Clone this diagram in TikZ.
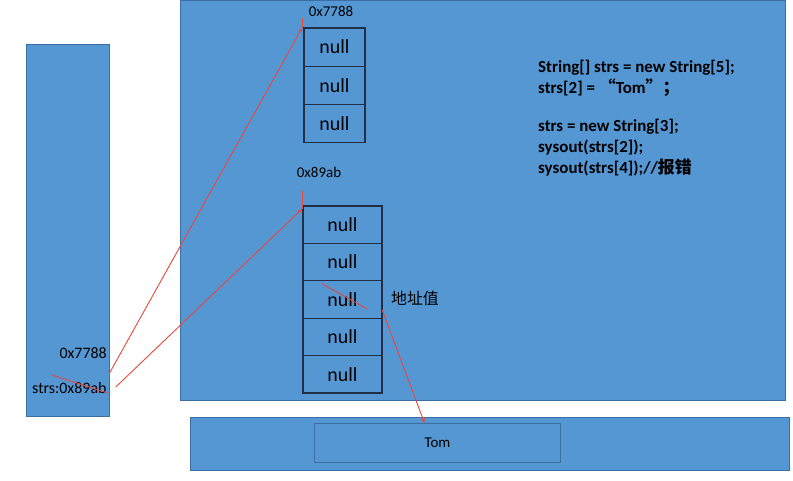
\documentclass[tikz,border=0pt]{standalone}
\usepackage{fontspec}
\setmainfont{Carlito}
\newfontfamily\cjk{Noto Sans CJK SC}
\usetikzlibrary{positioning,calc,arrows.meta}
\definecolor{memblue}{HTML}{5597D3}
\definecolor{memedge}{HTML}{3A6EA5}
\definecolor{celledge}{HTML}{1E2F46}
\definecolor{ptrred}{HTML}{E8483A}
\tikzset{
  area/.style={draw=memedge, fill=memblue, line width=0.9bp},
  cell/.style={draw=celledge, line width=1.2bp, anchor=north west, inner sep=0pt, outer sep=0pt, font=\fontsize{20}{20}\selectfont},
  ptr/.style={draw=ptrred, line width=0.9bp},
}

\begin{document}
\begin{tikzpicture}[x=1bp, y=-1bp]
            \useasboundingbox (0,0) rectangle (793,481);
            % stack, heap, constant pool
            \node[area, anchor=north west, minimum width=83bp, minimum height=372bp] (stack) at (26,44) {};
            \node[area, anchor=north west, minimum width=605bp, minimum height=400bp] (heap) at (180,0) {};
            \node[area, anchor=north west, minimum width=599bp, minimum height=53bp] (pool) at (190,417) {};
            \node[draw=memedge, line width=0.9bp, anchor=north west, minimum width=246bp, minimum height=39bp, font=\fontsize{15}{15}\selectfont] (tom) at (314,423) {Tom};
            % first array 0x7788
            \node[cell, minimum width=61bp, minimum height=38.3bp] (a1) at (304,28) {null};
            \node[cell, minimum width=61bp, minimum height=38.3bp] (a2) at (a1.south west) {null};
            \node[cell, minimum width=61bp, minimum height=38.3bp] (a3) at (a2.south west) {null};
            \node[font=\fontsize{15}{15}\selectfont] (addr1) at (331,11) {0x7788};
            % second array 0x89ab
            \node[cell, minimum width=79bp, minimum height=37.4bp] (b1) at (303,206) {null};
            \node[cell, minimum width=79bp, minimum height=37.4bp] (b2) at (b1.south west) {null};
            \node[cell, minimum width=79bp, minimum height=37.4bp] (b3) at (b2.south west) {null};
            \node[cell, minimum width=79bp, minimum height=37.4bp] (b4) at (b3.south west) {null};
            \node[cell, minimum width=79bp, minimum height=37.4bp] (b5) at (b4.south west) {null};
            \node[font=\fontsize{15}{15}\selectfont] (addr2) at (319,172) {0x89ab};
            \node[font=\cjk\fontsize{16}{16}\selectfont] (addrval) at (415,298) {地址值};
            % code
            \node[anchor=north west, align=left, inner sep=0pt, font=\bfseries\fontsize{17}{21}\selectfont] (code) at (538,60) {String[] strs = new String[5];\\strs[2] = {\cjk “}Tom{\cjk ”}{\cjk ；}\\[17bp]strs = new String[3];\\sysout(strs[2]);\\sysout(strs[4]);//{\cjk 报错}};
            % stack variable
            \node[anchor=east, inner sep=0pt, font=\fontsize{16}{16}\selectfont] (old) at (107,353) {0x7788};
            \node[anchor=west, inner sep=0pt, font=\fontsize{16}{16}\selectfont] (strs) at (32,388) {strs:0x89ab};
            \coordinate (from1) at (109,374);
            \coordinate (from2) at ($(strs.east)+(9,-1)$);
            % references
            \draw[ptr, -{Stealth[length=5bp, width=4bp]}] (from1) -- ([xshift=-2bp]a1.north west);
            \draw[ptr] ([xshift=-2bp]a1.north west) -- ++(0,-10);
            \draw[ptr, -{Stealth[length=5bp, width=4bp]}] (from2) -- ([xshift=-1bp,yshift=-3bp]b1.north west);
            \draw[ptr] ([xshift=-1bp,yshift=-3bp]b1.north west) -- ++(0,-18);
            \draw[ptr, -{Stealth[length=5bp, width=4bp]}] ([yshift=-10bp]b3.east) -- ([xshift=-13bp]tom.north);
            % crossed out
            \draw[ptr] ($(strs.west)+(20,-13)$) -- ($(strs.east)+(1,5)$);
            \draw[ptr] ($(b3.north west)+(19,3)$) -- ($(b3.north west)+(64,28)$);
        \end{tikzpicture}
\end{document}
